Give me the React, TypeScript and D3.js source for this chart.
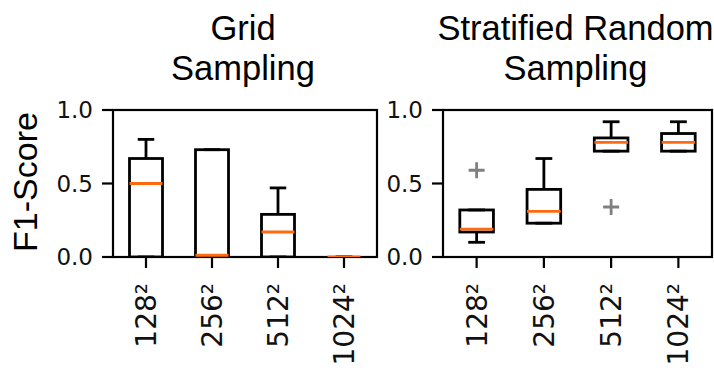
import React from "react";
import * as d3 from "d3";

const categories = ["128²", "256²", "512²", "1024²"];
const yTicks = [0, 0.5, 1.0];
const panelTitles = [["Grid", "Sampling"], ["Stratified Random", "Sampling"]];
const yLabel = "F1-Score";

// Grid Sampling
const gridQ1 = [0, 0, 0, 0];
const gridMedian = [0.5, 0.012, 0.17, 0];
const gridQ3 = [0.67, 0.73, 0.29, 0];
const gridWhiskerLow = [0, 0, 0, 0];
const gridWhiskerHigh = [0.8, 0.73, 0.47, 0];
const gridOutliers: number[][] = [[], [], [], []];

// Stratified Random Sampling
const stratQ1 = [0.17, 0.23, 0.72, 0.72];
const stratMedian = [0.19, 0.31, 0.78, 0.78];
const stratQ3 = [0.32, 0.46, 0.81, 0.84];
const stratWhiskerLow = [0.1, 0.23, 0.72, 0.72];
const stratWhiskerHigh = [0.32, 0.67, 0.92, 0.92];
const stratOutliers: number[][] = [[0.59], [], [0.34], []];

const W = 714;
const H = 372;
const TICK_FONT = "'DejaVu Sans', sans-serif";
const TEXT_FONT = "'Liberation Sans', Arial, sans-serif";
const ORANGE = "#ff6a10";

type PanelProps = {
  id: string;
  x0: number;
  x1: number;
  y0: number;
  y1: number;
  title: string[];
  q1: number[];
  med: number[];
  q3: number[];
  wlo: number[];
  whi: number[];
  outliers: number[][];
};

function Panel(p: PanelProps) {
  const x = d3.scaleLinear().domain([0.5, 4.5]).range([p.x0, p.x1]);
  const y = d3.scaleLinear().domain([0, 1]).range([p.y1, p.y0]);
  const boxW = x(1.5) - x(1);
  const capW = boxW / 2;
  const cx = (p.x0 + p.x1) / 2;
  const sw = 2.8;
  return (
    <g>
      <defs>
        <clipPath id={p.id}>
          <rect x={p.x0} y={p.y0} width={p.x1 - p.x0} height={p.y1 - p.y0} />
        </clipPath>
      </defs>
      <text x={cx - 2} y={40} textAnchor="middle" fontFamily={TEXT_FONT} fontSize={34.5} fill="#000">
        {p.title[0]}
      </text>
      <text x={cx - 2} y={80} textAnchor="middle" fontFamily={TEXT_FONT} fontSize={34.5} fill="#000">
        {p.title[1]}
      </text>
      <rect x={p.x0} y={p.y0} width={p.x1 - p.x0} height={p.y1 - p.y0} fill="none" stroke="#000" strokeWidth={2.2} />
      {yTicks.map((t) => (
        <g key={t}>
          <line x1={p.x0 - 11} x2={p.x0} y1={y(t)} y2={y(t)} stroke="#000" strokeWidth={2.2} />
          <text x={p.x0 - 20} y={y(t)} dy="0.36em" textAnchor="end" fontFamily={TICK_FONT} fontSize={23} fill="#111">
            {d3.format(".1f")(t)}
          </text>
        </g>
      ))}
      {categories.map((c, i) => {
        const xp = x(i + 1);
        return (
          <g key={c}>
            <line x1={xp} x2={xp} y1={p.y1} y2={p.y1 + 11} stroke="#000" strokeWidth={2.2} />
            <text
              transform={`translate(${xp},${p.y1 + 26}) rotate(-90)`}
              dy="0.36em"
              textAnchor="end"
              fontFamily={TICK_FONT}
              fontSize={28}
              fill="#111"
            >
              {c}
            </text>
          </g>
        );
      })}
      <g clipPath={`url(#${p.id})`}>
        {categories.map((c, i) => {
          const xp = x(i + 1);
          return (
            <g key={c}>
              <line x1={xp} x2={xp} y1={y(p.q3[i])} y2={y(p.whi[i])} stroke="#000" strokeWidth={sw} />
              <line x1={xp} x2={xp} y1={y(p.q1[i])} y2={y(p.wlo[i])} stroke="#000" strokeWidth={sw} />
              <line x1={xp - capW / 2} x2={xp + capW / 2} y1={y(p.whi[i])} y2={y(p.whi[i])} stroke="#000" strokeWidth={sw} />
              <line x1={xp - capW / 2} x2={xp + capW / 2} y1={y(p.wlo[i])} y2={y(p.wlo[i])} stroke="#000" strokeWidth={sw} />
              <rect
                x={xp - boxW / 2}
                y={y(p.q3[i])}
                width={boxW}
                height={y(p.q1[i]) - y(p.q3[i])}
                fill="none"
                stroke="#000"
                strokeWidth={sw}
              />
              <line x1={xp - boxW / 2} x2={xp + boxW / 2} y1={y(p.med[i])} y2={y(p.med[i])} stroke={ORANGE} strokeWidth={sw} />
              {p.outliers[i].map((o, k) => (
                <path
                  key={k}
                  d={`M${xp - 8},${y(o)}H${xp + 8}M${xp},${y(o) - 8}V${y(o) + 8}`}
                  stroke="#808080"
                  strokeWidth={2.8}
                  fill="none"
                />
              ))}
            </g>
          );
        })}
      </g>
    </g>
  );
}

export default function App() {
  return (
    <svg
      width={W}
      height={H}
      viewBox={`0 0 ${W} ${H}`}
      style={{ position: "absolute", left: 0, top: 0, background: "#fff" }}
    >
      <rect width={W} height={H} fill="#fff" />
      <text
        transform={`translate(37,182) rotate(-90)`}
        textAnchor="middle"
        fontFamily={TEXT_FONT}
        fontSize={34}
        fill="#000"
      >
        {yLabel}
      </text>
      <Panel
        id="clipGrid"
        x0={113}
        x1={377}
        y0={110}
        y1={257}
        title={panelTitles[0]}
        q1={gridQ1}
        med={gridMedian}
        q3={gridQ3}
        wlo={gridWhiskerLow}
        whi={gridWhiskerHigh}
        outliers={gridOutliers}
      />
      <Panel
        id="clipStrat"
        x0={443}
        x1={712}
        y0={110}
        y1={257}
        title={panelTitles[1]}
        q1={stratQ1}
        med={stratMedian}
        q3={stratQ3}
        wlo={stratWhiskerLow}
        whi={stratWhiskerHigh}
        outliers={stratOutliers}
      />
    </svg>
  );
}
